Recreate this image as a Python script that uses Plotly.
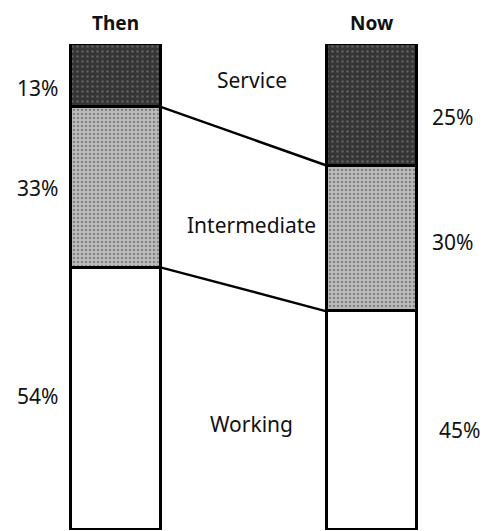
import plotly.graph_objects as go

periods = ["Then", "Now"]
classes = ["Working", "Intermediate", "Service"]
working = [54, 45]
intermediate = [33, 30]
service = [13, 25]

xpos = [0, 1]
bar_w = 0.355

fig = go.Figure()
styles = {
    "Working": dict(color="#ffffff", pattern=None),
    "Intermediate": dict(color="#bdbdbd", pattern=dict(shape=".", fgcolor="#4a4a4a", size=4, solidity=0.35, fillmode="overlay")),
    "Service": dict(color="#353535", pattern=dict(shape=".", fgcolor="#8a8a8a", size=5, solidity=0.2, fillmode="overlay")),
}
for name, vals in zip(classes, [working, intermediate, service]):
    st = styles[name]
    marker = dict(color=st["color"], line=dict(color="#000000", width=2.8))
    if st["pattern"]:
        marker["pattern"] = st["pattern"]
    fig.add_trace(go.Bar(x=xpos, y=vals, width=bar_w, marker=marker, name=name,
                         showlegend=False, hoverinfo="skip"))

# connector lines between segment boundaries
b1 = [working[i] + intermediate[i] for i in range(2)]
b0 = working
for b in (b0, b1):
    fig.add_trace(go.Scatter(x=[xpos[0] + bar_w / 2, xpos[1] - bar_w / 2], y=b,
                             mode="lines", line=dict(color="#000000", width=2.4),
                             showlegend=False, hoverinfo="skip"))

fam = "Noto Sans, Open Sans, sans-serif"
font = dict(family=fam, size=21, color="#111111")
anns = []
# period titles
for p, x in zip(periods, xpos):
    anns.append(dict(x=x, y=1.0, xref="x", yref="paper", yanchor="bottom", yshift=6,
                     text="<b>%s</b>" % p, showarrow=False,
                     font=dict(family=fam, size=19, color="#111111")))
# percentage labels
pct_pos = {
    "Then": [(-0.305, 27.6), (-0.305, 70.4), (-0.305, 90.9)],
    "Now": [(1.34, 20.6), (1.315, 59.3), (1.315, 85.0)],
}
for i, p in enumerate(periods):
    vals = [working[i], intermediate[i], service[i]]
    for (x, y), v in zip(pct_pos[p], vals):
        anns.append(dict(x=x, y=y, xref="x", yref="y", text="%d%%" % v,
                         showarrow=False, font=font))
# class labels
cls_pos = [(0.53, 21.8), (0.53, 62.8), (0.53, 92.6)]
for (x, y), c in zip(cls_pos, classes):
    anns.append(dict(x=x, y=y, xref="x", yref="y", text=c, showarrow=False, font=font))

fig.update_layout(
    width=488, height=531,
    margin=dict(l=0, r=0, t=44, b=1),
    paper_bgcolor="#ffffff", plot_bgcolor="#ffffff",
    barmode="stack", bargap=0,
    xaxis=dict(range=[-0.453, 1.453], visible=False, fixedrange=True),
    yaxis=dict(range=[0, 100], visible=False, fixedrange=True),
    annotations=anns,
)
fig.write_html("out.html", config={"displayModeBar": False},
               post_script="document.body.style.margin='0';document.body.style.overflow='hidden';")
